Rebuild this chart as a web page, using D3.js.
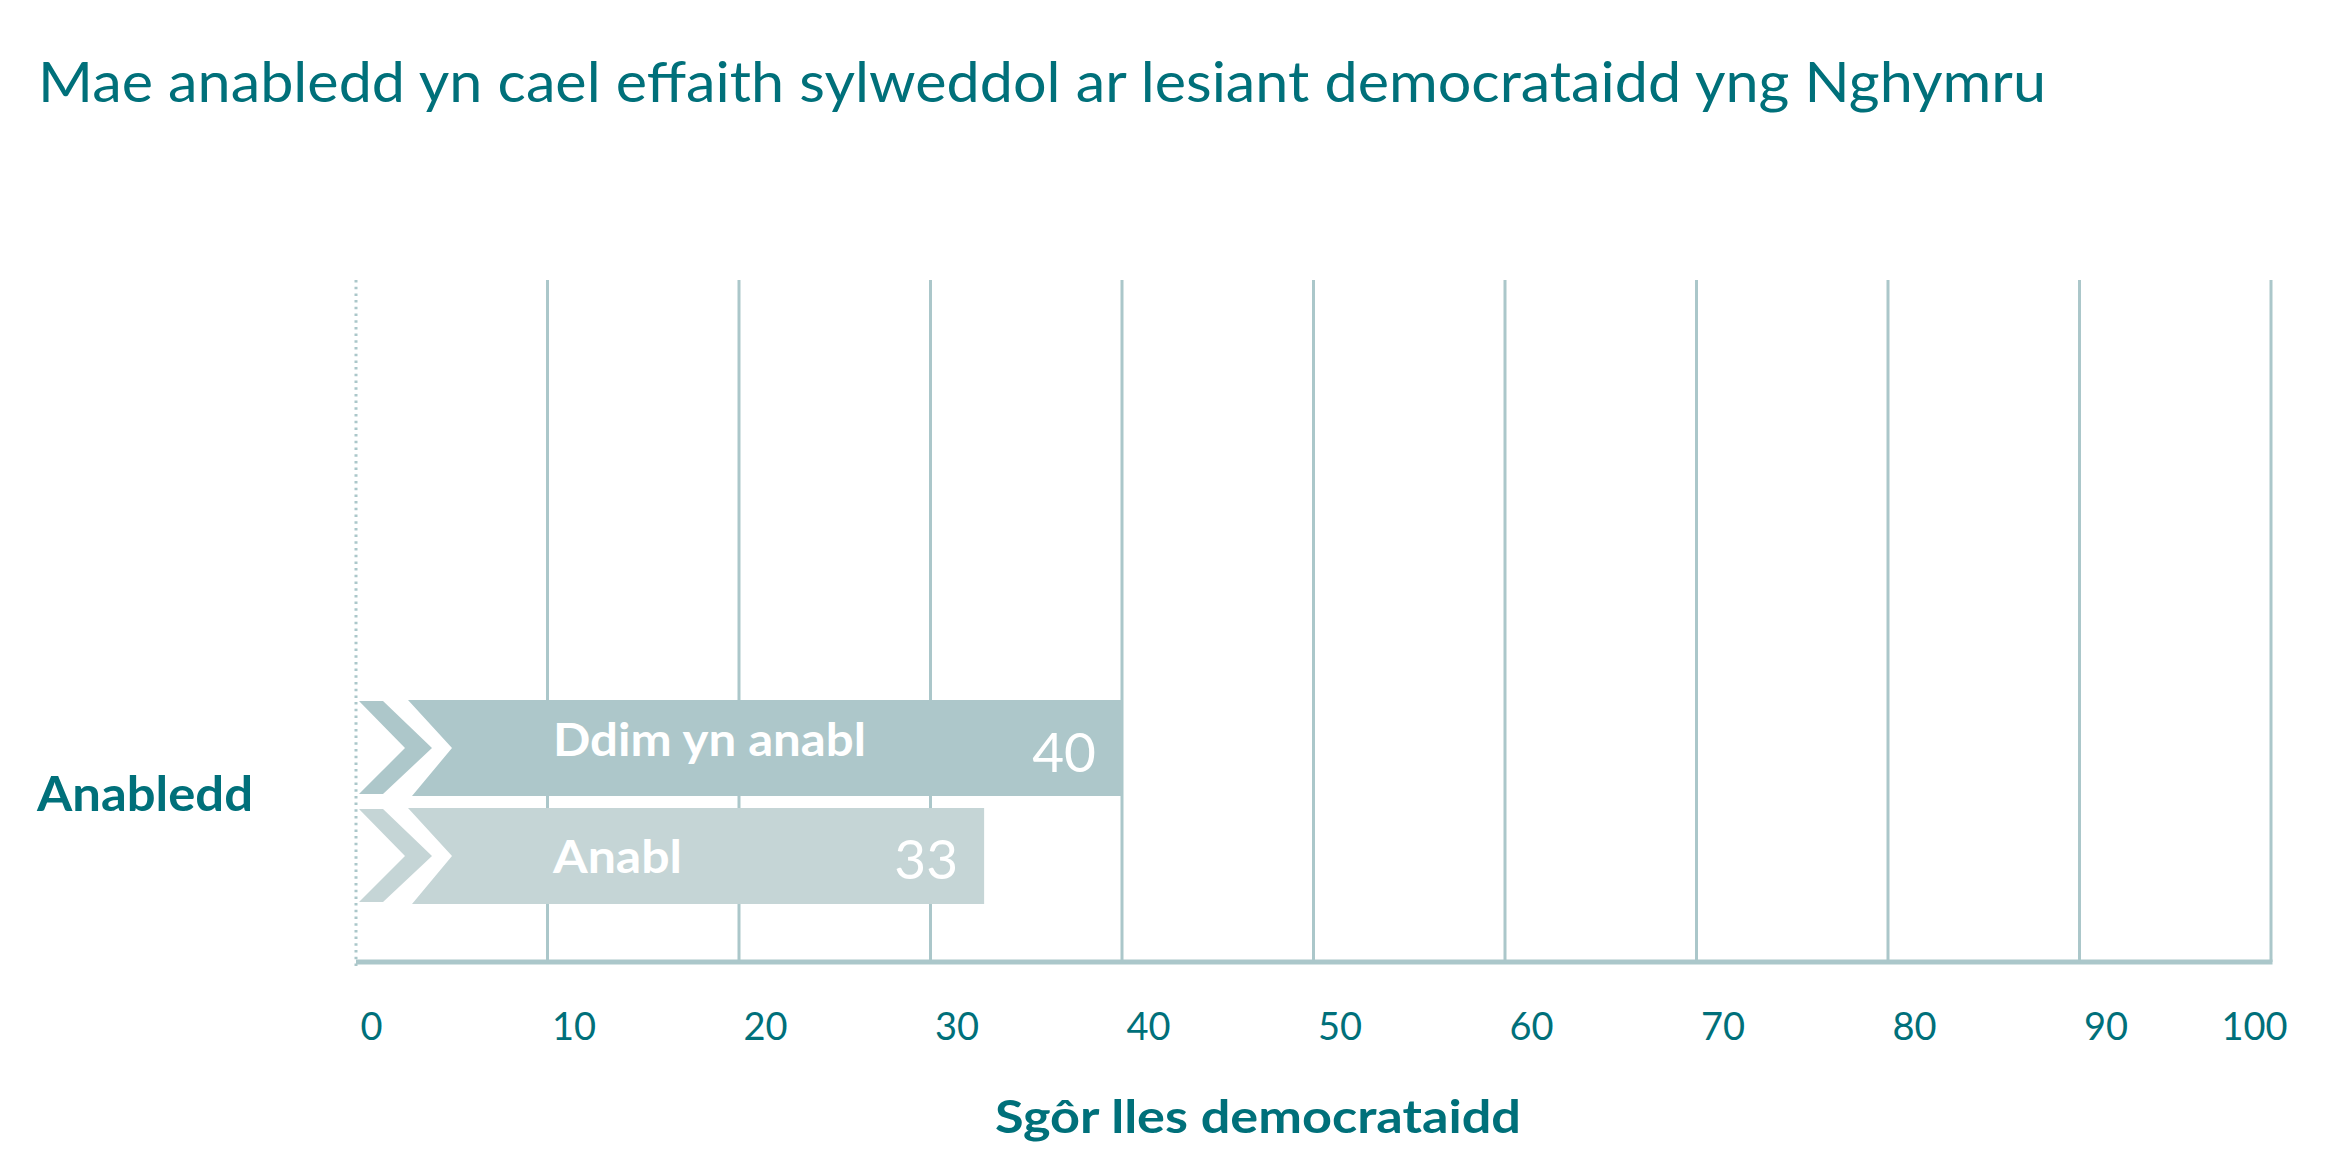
<!DOCTYPE html>
<html>
<head>
<meta charset="utf-8">
<script src="https://cdn.jsdelivr.net/npm/d3@7"></script>
<style>
  html, body { margin: 0; padding: 0; background: #fff; }
  svg { display: block; }
  text { font-family: Lato, "Open Sans", sans-serif; }
</style>
</head>
<body>
<svg id="chart" width="2350" height="1160"></svg>
<script>
// ---- Data ----
const chartTitle = "Mae anabledd yn cael effaith sylweddol ar lesiant democrataidd yng Nghymru";
const category = "Anabledd";
const seriesNames = ["Ddim yn anabl", "Anabl"];
const seriesValues = [40, 32.8];
const xTicks = [0, 10, 20, 30, 40, 50, 60, 70, 80, 90, 100];
const xAxisTitle = "Sgôr lles democrataidd";

// ---- Styles ----
const teal = "#00707a";
const gridColor = "#abc7ca";
const barColors = ["#adc7ca", "#c5d5d6"];

const svg = d3.select("#chart");

const x = d3.scaleLinear().domain([0, 100]).range([356, 2271]);
const y = d3.scaleBand().domain(seriesNames).range([700, 904]).paddingInner(0.111).paddingOuter(0);
const plotTop = 280, plotBottom = 962;

// Title
svg.append("text")
  .attr("x", 38).attr("y", 102)
  .attr("fill", teal)
  .attr("font-size", 56)
  .attr("textLength", 2008).attr("lengthAdjust", "spacingAndGlyphs")
  .text(chartTitle);

// Gridlines (ticks > 0)
const grid = svg.append("g");
grid.selectAll("line.g")
  .data(xTicks.filter(d => d > 0))
  .join("line")
  .attr("class", "g")
  .attr("x1", d => x(d)).attr("x2", d => x(d))
  .attr("y1", plotTop).attr("y2", plotBottom)
  .attr("stroke", gridColor).attr("stroke-width", 3);

// Zero dotted line
svg.append("line")
  .attr("x1", x(0)).attr("x2", x(0))
  .attr("y1", plotTop).attr("y2", plotBottom + 4)
  .attr("stroke", gridColor).attr("stroke-width", 3)
  .attr("stroke-dasharray", "2.5 4.2");

// Axis line
svg.append("line")
  .attr("x1", x(0)).attr("x2", x(100) + 1.5)
  .attr("y1", plotBottom).attr("y2", plotBottom)
  .attr("stroke", gridColor).attr("stroke-width", 5);

// Tick labels via d3 axis
const axisG = svg.append("g").attr("transform", `translate(0,${plotBottom})`)
  .call(d3.axisBottom(x).tickValues(xTicks).tickSize(0).tickFormat(d3.format("d")));
axisG.select(".domain").remove();
axisG.selectAll(".tick text")
  .attr("fill", teal)
  .attr("font-size", 38)
  .attr("font-family", "Lato, sans-serif")
  .attr("dy", 0)
  .attr("y", 78)
  .attr("text-anchor", (d, i) => i === xTicks.length - 1 ? "end" : "start")
  .attr("x", (d, i) => i === xTicks.length - 1 ? 16 : 4);

// Axis title
svg.append("text")
  .attr("x", 995).attr("y", 1133)
  .attr("fill", teal)
  .attr("font-size", 45).attr("font-weight", 700)
  .attr("textLength", 526).attr("lengthAdjust", "spacingAndGlyphs")
  .text(xAxisTitle);

// Category label
svg.append("text")
  .attr("x", 37).attr("y", 811)
  .attr("fill", teal)
  .attr("font-size", 47).attr("font-weight", 700)
  .attr("textLength", 216).attr("lengthAdjust", "spacingAndGlyphs")
  .text(category);

// Bars with chevrons
const barData = seriesNames.map((n, i) => ({ name: n, value: seriesValues[i], i }));
const labelShift = [8, 17];
const valueShift = [24, 23];
const labelWidths = [313, 129];

const bars = svg.append("g").selectAll("g.bar").data(barData).join("g").attr("class", "bar");

bars.append("path")
  .attr("fill", d => barColors[d.i])
  .attr("d", d => {
    const x0 = x(0), y0 = y(d.name), h = y.bandwidth(), xe = x(d.value);
    return d3.line()([
      [x0 + 3, y0 + 1], [x0 + 27, y0 + 1], [x0 + 76, y0 + h / 2],
      [x0 + 27, y0 + h - 2], [x0 + 3, y0 + h - 2], [x0 + 49, y0 + h / 2]
    ]) + "Z";
  });

bars.append("path")
  .attr("fill", d => barColors[d.i])
  .attr("d", d => {
    const x0 = x(0), y0 = y(d.name), h = y.bandwidth(), xe = x(d.value);
    return d3.line()([
      [x0 + 52, y0], [xe, y0], [xe, y0 + h], [x0 + 56, y0 + h], [x0 + 96, y0 + h / 2]
    ]) + "Z";
  });

bars.append("text")
  .attr("x", 553)
  .attr("y", d => y(d.name) + y.bandwidth() / 2 + labelShift[d.i])
  .attr("fill", "#fff")
  .attr("font-size", 46).attr("font-weight", 700)
  .attr("textLength", d => labelWidths[d.i]).attr("lengthAdjust", "spacingAndGlyphs")
  .text(d => d.name);

bars.append("text")
  .attr("x", d => x(d.value) - 26)
  .attr("y", d => y(d.name) + y.bandwidth() / 2 + valueShift[d.i])
  .attr("fill", "#fff")
  .attr("font-size", 55)
  .attr("text-anchor", "end")
  .text(d => Math.round(d.value));
</script>
</body>
</html>
